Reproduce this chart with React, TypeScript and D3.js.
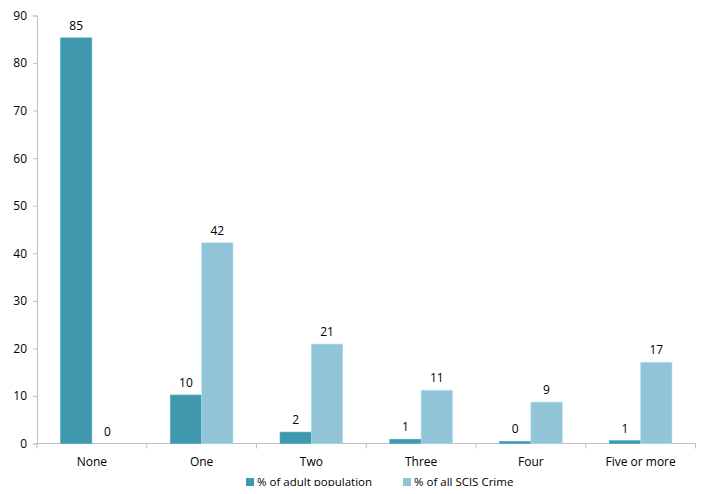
import { useEffect, useRef } from 'react';
import * as d3 from 'd3';

const categories = ['None', 'One', 'Two', 'Three', 'Four', 'Five or more'];
const adultPopulation = [85.3, 10.2, 2.4, 0.9, 0.45, 0.6];
const scjsCrime = [0, 42.2, 20.9, 11.2, 8.7, 17.1];
const seriesNames = ['% of adult population', '% of all SCJS Crime'];
const seriesColors = ['#4098AE', '#92C4D8'];
const yTicks = [0, 10, 20, 30, 40, 50, 60, 70, 80, 90];

const FONT = "'Open Sans', 'Liberation Sans', sans-serif";

export default function App() {
  const svgRef = useRef<SVGSVGElement>(null);

  useEffect(() => {
    if (!svgRef.current) return;
    const svg = d3.select(svgRef.current);
    svg.selectAll('*').remove();

    const width = 712;
    const height = 494;
    const margin = { top: 15.5, right: 16.5, bottom: 50.5, left: 37 };
    const innerW = width - margin.left - margin.right;
    const innerH = height - margin.top - margin.bottom;

    const g = svg.append('g').attr('transform', `translate(${margin.left},${margin.top})`);

    const x = d3.scaleBand().domain(categories).range([0, innerW]).paddingInner(0).paddingOuter(0);
    // Excel-style gap width 150%
    const barW = x.bandwidth() / 3.5;
    const y = d3.scaleLinear().domain([0, 90]).range([innerH, 0]);

    // Y axis
    const yAxis = g.append('g').call(
      d3.axisLeft(y).tickValues(yTicks).tickSize(4).tickPadding(6).tickFormat((d) => String(d))
    );
    yAxis.select('.domain').attr('stroke', '#BFBFBF');
    yAxis.selectAll('.tick line').attr('stroke', '#BFBFBF');
    yAxis.selectAll('text').attr('fill', '#000').style('font-family', FONT).style('font-size', '12px');

    // X axis
    const xAxis = g.append('g').attr('transform', `translate(0,${innerH})`);
    xAxis.append('line').attr('x1', 0).attr('x2', innerW).attr('y1', 0).attr('y2', 0).attr('stroke', '#BFBFBF');
    const tickPositions = categories.map((c) => x(c) as number).concat([innerW]);
    xAxis
      .selectAll('line.tk')
      .data(tickPositions)
      .enter()
      .append('line')
      .attr('class', 'tk')
      .attr('x1', (d) => d)
      .attr('x2', (d) => d)
      .attr('y1', 0)
      .attr('y2', 5)
      .attr('stroke', '#BFBFBF');
    xAxis
      .selectAll('text')
      .data(categories)
      .enter()
      .append('text')
      .attr('x', (d) => (x(d) as number) + x.bandwidth() / 2)
      .attr('y', 22)
      .attr('text-anchor', 'middle')
      .style('font-family', FONT)
      .style('font-size', '12px')
      .text((d) => d);

    // Bars
    const series = [adultPopulation, scjsCrime];
    series.forEach((values, si) => {
      const grp = g.append('g');
      const offset = (d: string) => (x(d) as number) + x.bandwidth() / 2 - barW + si * barW;
      grp
        .selectAll('rect')
        .data(categories)
        .enter()
        .append('rect')
        .attr('x', (d) => offset(d))
        .attr('y', (_, i) => y(values[i]))
        .attr('width', barW)
        .attr('height', (_, i) => innerH - y(values[i]))
        .attr('fill', seriesColors[si])
        .attr('stroke', d3.color(seriesColors[si])!.brighter(0.4).formatHex())
        .attr('stroke-width', 0.6);
      grp
        .selectAll('text')
        .data(categories)
        .enter()
        .append('text')
        .attr('x', (d) => offset(d) + barW / 2)
        .attr('y', (_, i) => y(values[i]) - 8)
        .attr('text-anchor', 'middle')
        .style('font-family', FONT)
        .style('font-size', '12px')
        .text((_, i) => String(Math.round(values[i])));
    });

    // Legend
    const legend = svg.append('g').attr('transform', 'translate(246,478)');
    const legendX = [0, 157];
    seriesNames.forEach((name, i) => {
      const item = legend.append('g').attr('transform', `translate(${legendX[i]},0)`);
      item.append('rect').attr('width', 8).attr('height', 8).attr('fill', seriesColors[i]);
      item
        .append('text')
        .attr('x', 11)
        .attr('y', 8)
        .style('font-family', FONT)
        .style('font-size', '11.5px')
        .text(name);
    });
  }, []);

  return (
    <div style={{ width: 712, height: 494, margin: -8 }}>
      <svg ref={svgRef} width={712} height={494} style={{ display: 'block', background: '#fff' }} />
    </div>
  );
}
